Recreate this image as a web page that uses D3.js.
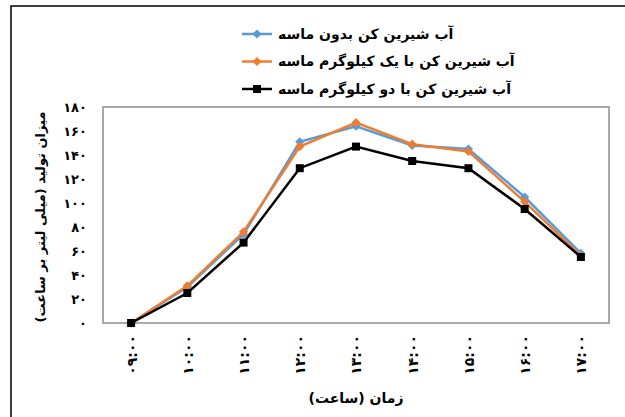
<!DOCTYPE html>
<html>
<head>
<meta charset="utf-8">
<script src="https://cdn.jsdelivr.net/npm/d3@7"></script>
<style>
  body { margin: 0; background: #fff; }
  svg { display: block; font-family: "DejaVu Sans", sans-serif; }
</style>
</head>
<body>
<svg id="chart" width="625" height="417"></svg>
<script>
// data
var hours = ['۰۹:۰۰', '۱۰:۰۰', '۱۱:۰۰', '۱۲:۰۰', '۱۳:۰۰', '۱۴:۰۰', '۱۵:۰۰', '۱۶:۰۰', '۱۷:۰۰'];
var noMask = [0, 30, 74, 151, 164, 148, 145, 105, 58];
var oneKgMask = [0, 31, 76, 147, 167, 149, 143, 101, 56];
var twoKgMask = [0, 25, 67, 129, 147, 135, 129, 95, 55];
var yTicks = [0, 20, 40, 60, 80, 100, 120, 140, 160, 180];

var seriesNames = [
  'آب شیرین کن بدون ماسه',
  'آب شیرین کن با یک کیلوگرم ماسه',
  'آب شیرین کن با دو کیلوگرم ماسه'
];
var seriesColors = ['#5b9bd5', '#ed7d31', '#000000'];
var seriesRotate = [45, 45, 0]; // diamonds are rotated squares
var seriesValues = [noMask, oneKgMask, twoKgMask];

var faDigits = function(n) {
  return String(n).replace(/\d/g, function(c) { return '۰۱۲۳۴۵۶۷۸۹'[+c]; });
};

var plot = { left: 103, top: 107, right: 609, bottom: 323 };

var svg = d3.select('#chart');

// outer chart border
svg.append('rect')
  .attr('x', 11).attr('y', 6)
  .attr('width', 700).attr('height', 500)
  .style('fill', 'none')
  .style('stroke', '#000')
  .style('stroke-width', 1.5);

var xScale = d3.scalePoint()
  .domain(hours)
  .range([plot.left, plot.right])
  .padding(0.5);
var yScale = d3.scaleLinear()
  .domain([0, 180])
  .range([plot.bottom, plot.top]);

// plot frame
svg.append('rect')
  .attr('x', plot.left).attr('y', plot.top)
  .attr('width', plot.right - plot.left)
  .attr('height', plot.bottom - plot.top)
  .style('fill', 'none')
  .style('stroke', '#8c8c8c')
  .style('stroke-width', 1.5);

// y axis labels
var yAxis = svg.append('g')
  .attr('transform', 'translate(' + plot.left + ',0)')
  .call(d3.axisLeft(yScale).tickValues(yTicks).tickFormat(faDigits).tickSize(0).tickPadding(16));
yAxis.select('.domain').remove();
yAxis.selectAll('text')
  .style('font-size', '13px')
  .style('font-weight', 'bold')
  .style('font-family', '"DejaVu Sans", sans-serif')
  .style('fill', '#000');

// x axis labels (rotated)
var xAxis = svg.append('g')
  .attr('transform', 'translate(0,' + plot.bottom + ')')
  .call(d3.axisBottom(xScale).tickSize(0));
xAxis.select('.domain').remove();
xAxis.selectAll('text')
  .attr('transform', 'rotate(-90)')
  .attr('x', -12)
  .attr('y', 0)
  .attr('dy', '0.35em')
  .style('text-anchor', 'end')
  .style('font-size', '14px')
  .style('font-weight', 'bold')
  .style('font-family', '"DejaVu Sans", sans-serif')
  .style('fill', '#000');

// axis titles
svg.append('text')
  .attr('transform', 'translate(40,' + ((plot.top + plot.bottom) / 2 + 2) + ') rotate(-90)')
  .attr('text-anchor', 'middle')
  .attr('dy', '0.35em')
  .style('font-size', '13px')
  .style('font-weight', 'bold')
  .text('میزان تولید (میلی لیتر بر ساعت)');

svg.append('text')
  .attr('x', 356).attr('y', 398)
  .attr('text-anchor', 'middle')
  .attr('dy', '0.35em')
  .style('font-size', '14px')
  .style('font-weight', 'bold')
  .text('زمان (ساعت)');

// lines
var line = d3.line()
  .x(function(d, i) { return xScale(hours[i]); })
  .y(function(d) { return yScale(d); });

var marker = d3.symbol().type(d3.symbolSquare);

seriesValues.forEach(function(values, s) {
  var g = svg.append('g');
  g.append('path')
    .datum(values)
    .attr('d', line)
    .style('fill', 'none')
    .style('stroke', seriesColors[s])
    .style('stroke-width', 2.5);
  g.selectAll('path.marker')
    .data(values)
    .enter().append('path')
    .attr('class', 'marker')
    .attr('transform', function(d, i) {
      return 'translate(' + xScale(hours[i]) + ',' + yScale(d) + ') rotate(' + seriesRotate[s] + ')';
    })
    .attr('d', marker.size(s === 2 ? 64 : 42)())
    .style('fill', seriesColors[s]);
});

// legend
var legend = svg.append('g').attr('transform', 'translate(242,34)');
seriesNames.forEach(function(name, s) {
  var row = legend.append('g').attr('transform', 'translate(0,' + (s * 27.5) + ')');
  row.append('line')
    .attr('x1', 0).attr('x2', 30)
    .style('stroke', seriesColors[s])
    .style('stroke-width', 2.5);
  row.append('path')
    .attr('transform', 'translate(15,0) rotate(' + seriesRotate[s] + ')')
    .attr('d', marker.size(s === 2 ? 64 : 42)())
    .style('fill', seriesColors[s]);
  row.append('text')
    .attr('x', 36)
    .attr('dy', '0.35em')
    .style('font-size', '14px')
    .style('font-weight', 'bold')
    .text(name);
});
</script>
</body>
</html>
